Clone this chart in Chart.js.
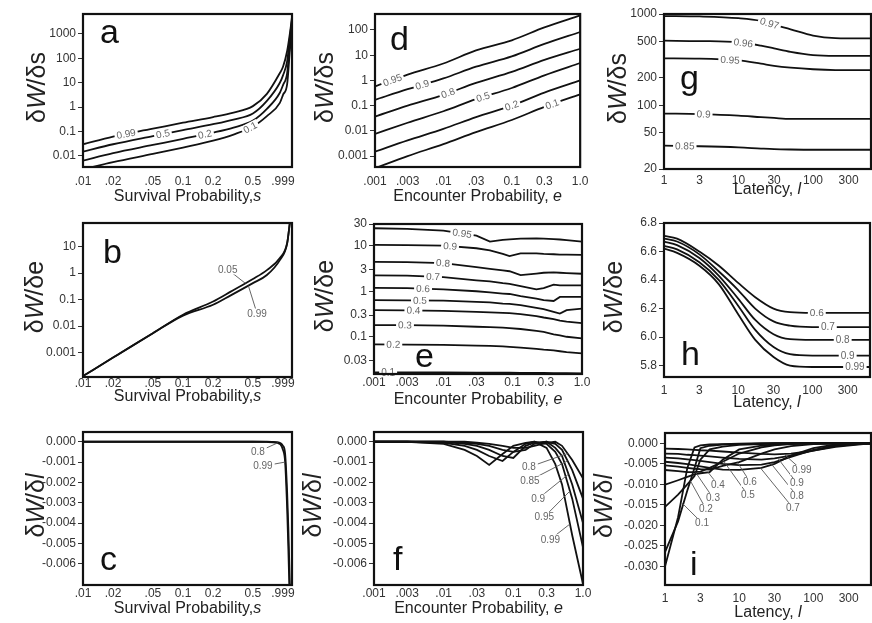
<!DOCTYPE html>
<html>
<head>
<meta charset="utf-8">
<script src="https://cdn.jsdelivr.net/npm/chart.js@4.4.1/dist/chart.umd.min.js"></script>
<style>
  html, body { margin: 0; padding: 0; background: #fff; }
  body { position: relative; width: 872px; height: 623px; overflow: hidden; }
  canvas { position: absolute; }
</style>
</head>
<body>
<script>
// ---- axis ticks ----
const sTicks = [0.01, 0.02, 0.05, 0.1, 0.2, 0.5, 0.999];
const sTickLabels = ['.01', '.02', '.05', '0.1', '0.2', '0.5', '.999'];
const eTicks = [0.001, 0.003, 0.01, 0.03, 0.1, 0.3, 1];
const eTickLabels = ['.001', '.003', '.01', '.03', '0.1', '0.3', '1.0'];
const lTicks = [1, 3, 10, 30, 100, 300];
const lTickLabels = ['1', '3', '10', '30', '100', '300'];

const aTicks = [0.01, 0.1, 1, 10, 100, 1000];
const aTickLabels = ['0.01', '0.1', '1', '10', '100', '1000'];
const dTicks = [0.001, 0.01, 0.1, 1, 10, 100];
const dTickLabels = ['0.001', '0.01', '0.1', '1', '10', '100'];
const gTicks = [20, 50, 100, 200, 500, 1000];
const gTickLabels = ['20', '50', '100', '200', '500', '1000'];
const bTicks = [0.001, 0.01, 0.1, 1, 10];
const bTickLabels = ['0.001', '0.01', '0.1', '1', '10'];
const eyTicks = [0.03, 0.1, 0.3, 1, 3, 10, 30];
const eyTickLabels = ['0.03', '0.1', '0.3', '1', '3', '10', '30'];
const hTicks = [5.8, 6.0, 6.2, 6.4, 6.6, 6.8];
const hTickLabels = ['5.8', '6.0', '6.2', '6.4', '6.6', '6.8'];
const cfTicks = [0, -0.001, -0.002, -0.003, -0.004, -0.005, -0.006];
const cfTickLabels = ['0.000', '-0.001', '-0.002', '-0.003', '-0.004', '-0.005', '-0.006'];
const iTicks = [0, -0.005, -0.010, -0.015, -0.020, -0.025, -0.030];
const iTickLabels = ['0.000', '-0.005', '-0.010', '-0.015', '-0.020', '-0.025', '-0.030'];

// ---- a: dW/ds vs survival probability ----
const aS = [0.01, 0.02, 0.05, 0.1, 0.2, 0.32, 0.5, 0.69, 0.93, 1.0, 1.1, 1.17, 1.23];
const aW99 = [0.03, 0.062, 0.13, 0.23, 0.39, 0.6, 1.1, 3.5, 25, 45, 200, 1000, 5000];
const aW50 = [0.015, 0.03, 0.065, 0.115, 0.2, 0.31, 0.55, 1.8, 10, 20, 77, 700, 4000];
const aW20 = [0.0064, 0.013, 0.028, 0.05, 0.09, 0.145, 0.28, 0.85, 3.9, 8, 25, 380, 3000];
const aW10 = [0.0028, 0.0055, 0.012, 0.022, 0.042, 0.075, 0.16, 0.43, 1.5, 3.2, 8.8, 200, 2000];
const aNames = ['0.99', '0.5', '0.2', '0.1'];

// ---- b: dW/de vs survival probability ----
const bS = [0.01, 0.02, 0.05, 0.1, 0.2, 0.3, 0.5, 0.69, 0.93, 1.1, 1.17, 1.23];
const bW05 = [0.00013, 0.00065, 0.0054, 0.027, 0.085, 0.2, 0.6, 1.3, 3.7, 13.7, 78, 300];
const bW99 = [0.00013, 0.00065, 0.0054, 0.025, 0.064, 0.145, 0.42, 0.85, 3.1, 13, 78, 300];
const bNames = ['0.05', '0.99'];

// ---- c: dW/dl vs survival probability ----
const cS = [0.01, 0.1, 0.5, 0.69, 0.87, 1.0, 1.05, 1.1, 1.13, 1.17, 1.23];
const cL80 = [0, 0, 0, 0, -0.00002, -0.0002, -0.0006, -0.0025, -0.0042, -0.007, -0.010];
const cL99 = [0, 0, 0, -0.00001, -0.00006, -0.0004, -0.0010, -0.0033, -0.0052, -0.008, -0.011];
const cNames = ['0.8', '0.99'];

// ---- d: dW/ds vs encounter probability ----
const dE = [0.001, 0.003, 0.01, 0.03, 0.1, 0.3, 1];
const dS95 = [0.58, 1.7, 4.7, 15.5, 39, 127, 380];
const dS90 = [0.17, 0.45, 1.2, 3.5, 9, 28, 83];
const dS80 = [0.037, 0.1, 0.27, 0.8, 2.2, 6.5, 18];
const dS50 = [0.0076, 0.021, 0.06, 0.18, 0.5, 1.6, 4.9];
const dS20 = [0.0015, 0.0042, 0.012, 0.035, 0.1, 0.33, 1.0];
const dS10 = [0.00033, 0.001, 0.003, 0.009, 0.027, 0.09, 0.28];
const dNames = ['0.95', '0.9', '0.8', '0.5', '0.2', '0.1'];

// ---- e: dW/de vs encounter probability ----
const eE = [0.001, 0.003, 0.01, 0.03, 0.047, 0.072, 0.09, 0.13, 0.22, 0.28, 0.39, 0.48, 0.6, 1];
const eS95 = [24.2, 23.5, 21.5, 16.7, 12.3, 13.5, 13.8, 14.3, 14.4, 14.3, 14, 13.7, 13.3, 12.3];
const eS90 = [10.4, 10.3, 10, 8.8, 7.9, 6.6, 5.9, 6.8, 6.8, 6.6, 6.5, 6.4, 6.4, 6.3];
const eS80 = [4.4, 4.35, 4.15, 3.4, 3.1, 2.87, 2.75, 2.25, 2.45, 2.55, 2.6, 2.55, 2.5, 2.42];
const eS70 = [2.23, 2.2, 2.05, 1.74, 1.65, 1.5, 1.45, 1.3, 1.1, 1.17, 1.39, 1.35, 1.35, 1.35];
const eS60 = [1.18, 1.17, 1.1, 1.0, 0.94, 0.89, 0.87, 0.78, 0.69, 0.64, 0.61, 0.75, 0.75, 0.75];
const eS50 = [0.636, 0.63, 0.62, 0.584, 0.57, 0.537, 0.53, 0.495, 0.432, 0.405, 0.353, 0.324, 0.385, 0.417];
const eS40 = [0.385, 0.38, 0.372, 0.353, 0.345, 0.336, 0.33, 0.315, 0.285, 0.265, 0.245, 0.225, 0.214, 0.2];
const eS30 = [0.181, 0.18, 0.176, 0.166, 0.162, 0.158, 0.155, 0.148, 0.134, 0.128, 0.113, 0.107, 0.1, 0.092];
const eS20 = [0.068, 0.067, 0.066, 0.064, 0.063, 0.0615, 0.06, 0.058, 0.054, 0.052, 0.05, 0.048, 0.046, 0.043];
const eS10 = [0.0165, 0.0165, 0.0164, 0.0163, 0.0163, 0.0162, 0.0162, 0.0161, 0.016, 0.016, 0.0159, 0.0158, 0.0158, 0.0157];
const eNames = ['0.95', '0.9', '0.8', '0.7', '0.6', '0.5', '0.4', '0.3', '0.2', '0.1'];

// ---- f: dW/dl vs encounter probability ----
const fE = [0.001, 0.003, 0.01, 0.02, 0.03, 0.045, 0.07, 0.1, 0.15, 0.2, 0.3, 0.4, 0.5, 0.7, 1];
const fS80 = [0, 0, 0, 0, -0.00005, -0.0001, -0.0002, -0.0003, -0.0003, -0.0002, -0.00005, 0, -0.0002, -0.0009, -0.0018];
const fS85 = [0, 0, 0, -0.00005, -0.0001, -0.0002, -0.0004, -0.0005, -0.0004, -0.0001, 0, -0.0001, -0.0004, -0.0014, -0.0028];
const fS90 = [0, 0, 0, -0.0001, -0.0002, -0.0004, -0.0007, -0.0008, -0.0002, -0.00005, 0, -0.0003, -0.0007, -0.0021, -0.0040];
const fS95 = [0, 0, -0.00005, -0.0002, -0.0004, -0.0007, -0.00095, -0.0005, -0.0001, 0, -0.0001, -0.0005, -0.0011, -0.0028, -0.0052];
const fS99 = [0, 0, -0.0001, -0.0004, -0.0007, -0.00114, -0.0006, -0.0002, -0.00005, 0, -0.0003, -0.0011, -0.0021, -0.0046, -0.0070];
const fNames = ['0.8', '0.85', '0.9', '0.95', '0.99'];

// ---- g: dW/ds vs latency ----
const gL = [1, 3, 10, 20, 30, 50, 100, 200, 600];
const gS97 = [950, 940, 900, 840, 760, 680, 580, 545, 540];
const gS96 = [510, 505, 490, 450, 420, 385, 355, 348, 348];
const gS95 = [327, 325, 310, 285, 270, 258, 248, 243, 242];
const gS90 = [81, 80, 77, 74, 72.5, 71, 71, 71, 71];
const gS85 = [36, 35.5, 34.5, 33.5, 33, 32.7, 32.5, 32.5, 32.5];
const gNames = ['0.97', '0.96', '0.95', '0.9', '0.85'];

// ---- h: dW/de vs latency ----
const hL = [1, 1.5, 3, 5.5, 10, 17, 30, 50, 100, 600];
const hS60 = [6.71, 6.69, 6.60, 6.50, 6.38, 6.28, 6.20, 6.175, 6.17, 6.17];
const hS70 = [6.69, 6.67, 6.58, 6.46, 6.33, 6.20, 6.11, 6.08, 6.07, 6.07];
const hS80 = [6.67, 6.645, 6.555, 6.43, 6.27, 6.12, 6.02, 5.985, 5.98, 5.98];
const hS90 = [6.64, 6.615, 6.525, 6.40, 6.22, 6.05, 5.93, 5.88, 5.87, 5.87];
const hS99 = [6.62, 6.59, 6.50, 6.37, 6.16, 5.98, 5.86, 5.80, 5.79, 5.79];
const hNames = ['0.6', '0.7', '0.8', '0.9', '0.99'];

// ---- i: dW/dl vs latency ----
const iL = [1, 1.5, 2, 2.5, 3, 4, 6, 10, 20, 30, 50, 100, 200, 400, 600];
const iS10 = [-0.030, -0.018, -0.006, -0.001, -0.0005, -0.0003, -0.0002, -0.0001, 0, 0, 0, 0, 0, 0, 0];
const iS20 = [-0.0265, -0.019, -0.0115, -0.006, -0.0012, -0.0006, -0.0003, -0.0002, -0.0001, 0, 0, 0, 0, 0, 0];
const iS30 = [-0.0155, -0.0125, -0.010, -0.008, -0.004, -0.0015, -0.0008, -0.0004, -0.0002, -0.0001, 0, 0, 0, 0, 0];
const iS40 = [-0.0101, -0.009, -0.0082, -0.0076, -0.0073, -0.007, -0.004, -0.0015, -0.0006, -0.0003, -0.0001, 0, 0, 0, 0];
const iS50 = [-0.0065, -0.0068, -0.007, -0.007, -0.0069, -0.006, -0.0045, -0.0025, -0.001, -0.0005, -0.0002, 0, 0, 0, 0];
const iS60 = [-0.0054, -0.0057, -0.006, -0.0062, -0.0063, -0.0064, -0.0055, -0.0046, -0.0025, -0.0015, -0.0007, -0.0002, 0, 0, 0];
const iS70 = [-0.0045, -0.0048, -0.0051, -0.0054, -0.0056, -0.006, -0.0064, -0.0065, -0.006, -0.005, -0.003, -0.0012, -0.0003, 0, 0];
const iS80 = [-0.0035, -0.0037, -0.0039, -0.0041, -0.0043, -0.0046, -0.005, -0.0053, -0.0052, -0.0046, -0.0033, -0.0016, -0.0005, -0.0001, 0];
const iS90 = [-0.0025, -0.0026, -0.0028, -0.0029, -0.003, -0.0032, -0.0035, -0.0038, -0.004, -0.0037, -0.003, -0.0018, -0.0007, -0.0002, 0];
const iS99 = [-0.0013, -0.0014, -0.0015, -0.0016, -0.0017, -0.0018, -0.002, -0.0023, -0.0026, -0.0027, -0.0025, -0.0018, -0.0009, -0.0003, 0];
const iNames = ['0.1', '0.2', '0.3', '0.4', '0.5', '0.6', '0.7', '0.8', '0.9', '0.99'];

const FONT = "'Liberation Sans', Arial, sans-serif";
const ML = 83, MR = 14, MT = 12, MB = 44;

const titleS = [['Survival Probability,', false], ['s', true]];
const titleE = [['Encounter Probability, ', false], ['e', true]];
const titleL = [['Latency, ', false], ['l', true]];
const ytS = [['δ', false], ['W', true], ['/δ', false], ['s', false]];
const ytE = [['δ', false], ['W', true], ['/δ', false], ['e', false]];
const ytL = [['δ', false], ['W', true], ['/δ', false], ['l', true]];

const sAxis = { type: 'logarithmic', min: 0.01, max: 1.23, ticks: sTicks, labels: sTickLabels };
const eAxis = { type: 'logarithmic', min: 0.001, max: 1, ticks: eTicks, labels: eTickLabels };
const lAxis = { type: 'logarithmic', min: 1, max: 600, ticks: lTicks, labels: lTickLabels };

const panels = [
  { rect: [83, 14, 292, 167], x: sAxis, y: { type: 'logarithmic', min: 0.0035, max: 6600, ticks: aTicks, labels: aTickLabels },
    xs: aS, series: [aW99, aW50, aW20, aW10], names: aNames, smooth: true,
    letter: 'a', letterAt: [17, 29], xTitle: titleS, yTitle: ytS, xTitleOff: 30, tickPad: 7.5, yTitleDx: -45,
    inline: [[0, 0.027], [1, 0.063], [2, 0.166], [3, 0.47]], leaders: [] },
  { rect: [375, 14, 582, 167], x: eAxis, y: { type: 'logarithmic', min: 0.00037, max: 430, ticks: dTicks, labels: dTickLabels },
    xs: dE, series: [dS95, dS90, dS80, dS50, dS20, dS10], names: dNames, smooth: true,
    letter: 'd', letterAt: [15, 36], xTitle: titleE, yTitle: ytS, xTitleOff: 30, tickPad: 7.5, yTitleDx: -49,
    inline: [[0, 0.0018], [1, 0.0049], [2, 0.0117], [3, 0.038], [4, 0.1], [5, 0.39]], leaders: [] },
  { rect: [664, 14, 871, 169], x: lAxis, y: { type: 'logarithmic', min: 20, max: 1000, ticks: gTicks, labels: gTickLabels },
    xs: gL, series: [gS97, gS96, gS95, gS90, gS85], names: gNames, smooth: true,
    letter: 'g', letterAt: [16, 75], xTitle: titleL, yTitle: ytS, xTitleOff: 21, tickPad: 4.5, yTitleDx: -45,
    inline: [[0, 26], [1, 11.6], [2, 7.7], [3, 3.4], [4, 1.9]], leaders: [] },
  { rect: [83, 223, 292, 377], x: sAxis, y: { type: 'logarithmic', min: 0.00012, max: 78, ticks: bTicks, labels: bTickLabels },
    xs: bS, series: [bW05, bW99], names: bNames, smooth: true,
    letter: 'b', letterAt: [20, 40], xTitle: titleS, yTitle: ytE, xTitleOff: 20, tickPad: -1, yTitleDx: -47,
    inline: [], leaders: [[0, 0.42, 0.28, 1.38], [1, 0.45, 0.55, 0.03]] },
  { rect: [374, 224, 582, 374], x: eAxis, y: { type: 'logarithmic', min: 0.0152, max: 30, ticks: eyTicks, labels: eyTickLabels },
    xs: eE, series: [eS95, eS90, eS80, eS70, eS60, eS50, eS40, eS30, eS20, eS10], names: eNames, smooth: false,
    letter: 'e', letterAt: [41, 143], xTitle: titleE, yTitle: ytE, xTitleOff: 26, tickPad: 1.5, yTitleDx: -48,
    inline: [[0, 0.0186], [1, 0.0125], [2, 0.0099], [3, 0.0071], [4, 0.0051], [5, 0.0046], [6, 0.0037], [7, 0.0028], [8, 0.0019], [9, 0.0016]], leaders: [] },
  { rect: [664, 223, 870, 377], x: lAxis, y: { type: 'linear', min: 5.72, max: 6.8, ticks: hTicks, labels: hTickLabels },
    xs: hL, series: [hS60, hS70, hS80, hS90, hS99], names: hNames, smooth: true,
    letter: 'h', letterAt: [17, 142], xTitle: titleL, yTitle: ytE, xTitleOff: 26, tickPad: 6, yTitleDx: -49,
    inline: [[0, 115], [1, 162], [2, 257], [3, 300], [4, 375]], leaders: [] },
  { rect: [83, 432, 292, 585], x: sAxis, y: { type: 'linear', min: -0.00705, max: 0.00048, ticks: cfTicks, labels: cfTickLabels },
    xs: cS, series: [cL80, cL99], names: cNames, smooth: true,
    letter: 'c', letterAt: [17, 138], xTitle: titleS, yTitle: ytL, xTitleOff: 24, tickPad: 1, yTitleDx: -46,
    inline: [], leaders: [[0, 0.89, 0.56, -0.0005], [1, 1.05, 0.63, -0.0012]] },
  { rect: [374, 432, 583, 585], x: eAxis, y: { type: 'linear', min: -0.00705, max: 0.00048, ticks: cfTicks, labels: cfTickLabels },
    xs: fE, series: [fS80, fS85, fS90, fS95, fS99], names: fNames, smooth: false,
    letter: 'f', letterAt: [19, 138], xTitle: titleE, yTitle: ytL, xTitleOff: 24, tickPad: 1.5, yTitleDx: -60,
    inline: [], leaders: [[0, 0.6, 0.167, -0.00125], [1, 0.6, 0.173, -0.0019], [2, 0.62, 0.227, -0.0028], [3, 0.65, 0.278, -0.0037], [4, 0.65, 0.34, -0.0048]] },
  { rect: [665, 433, 871, 585], x: lAxis, y: { type: 'linear', min: -0.0345, max: 0.0025, ticks: iTicks, labels: iTickLabels },
    xs: iL, series: [iS10, iS20, iS30, iS40, iS50, iS60, iS70, iS80, iS90, iS99], names: iNames, smooth: false,
    letter: 'i', letterAt: [25, 142], xTitle: titleL, yTitle: ytL, xTitleOff: 28, tickPad: 6, yTitleDx: -60,
    inline: [], leaders: [[0, 1.64, 3.16, -0.0194], [1, 2.2, 3.57, -0.016], [2, 2.6, 4.44, -0.0133], [3, 3.8, 5.18, -0.0101],
      [4, 6.2, 13.1, -0.0126], [5, 9.5, 14.0, -0.0094], [6, 19.4, 53, -0.0157], [7, 26.5, 60, -0.0128], [8, 33, 60, -0.0097], [9, 40, 70, -0.0065]] }
];

// point on a drawn dataset at a given pixel x (linear between element points)
function pointOn(meta, px) {
  const pts = meta.data;
  if (px <= pts[0].x) return { x: pts[0].x, y: pts[0].y };
  for (let i = 0; i < pts.length - 1; i++) {
    const a = pts[i], b = pts[i + 1];
    if (px >= a.x && px <= b.x) {
      const t = (px - a.x) / ((b.x - a.x) || 1);
      return { x: px, y: a.y + t * (b.y - a.y) };
    }
  }
  const last = pts[pts.length - 1];
  return { x: last.x, y: last.y };
}

function textBox(ctx, txt, x, y, ang) {
  ctx.save();
  ctx.translate(x, y);
  ctx.rotate(ang);
  ctx.font = '10px ' + FONT;
  ctx.textAlign = 'center';
  ctx.textBaseline = 'middle';
  const w = ctx.measureText(txt).width + 4;
  ctx.fillStyle = '#fff';
  ctx.fillRect(-w / 2, -5, w, 10);
  ctx.fillStyle = '#666';
  ctx.fillText(txt, 0, 0.5);
  ctx.restore();
}

function drawRich(ctx, segs, size, x, y, vertical) {
  ctx.save();
  ctx.translate(x, y);
  if (vertical) ctx.rotate(-Math.PI / 2);
  ctx.textBaseline = 'middle';
  ctx.textAlign = 'left';
  ctx.fillStyle = '#222';
  let total = 0;
  const widths = segs.map(([t, it]) => {
    ctx.font = (it ? 'italic ' : '') + size + 'px ' + FONT;
    const w = ctx.measureText(t).width;
    total += w;
    return w;
  });
  let cx = -total / 2;
  segs.forEach(([t, it], i) => {
    ctx.font = (it ? 'italic ' : '') + size + 'px ' + FONT;
    ctx.fillText(t, cx, 0);
    cx += widths[i];
  });
  ctx.restore();
}

function makeDeco(p) {
  return {
    id: 'deco',
    afterDatasetsDraw(chart) {
      const { ctx, chartArea: ca, scales } = chart;
      // leader labels
      p.leaders.forEach(([si, xv, tx, ty]) => {
        const a = pointOn(chart.getDatasetMeta(si), scales.x.getPixelForValue(xv));
        const tX = scales.x.getPixelForValue(tx), tY = scales.y.getPixelForValue(ty);
        ctx.save();
        ctx.strokeStyle = '#555';
        ctx.lineWidth = 0.9;
        ctx.beginPath();
        ctx.moveTo(a.x, a.y);
        ctx.lineTo(tX, tY);
        ctx.stroke();
        ctx.restore();
        textBox(ctx, p.names[si], tX, tY, 0);
      });
      // inline labels along the curves
      p.inline.forEach(([si, xv]) => {
        const meta = chart.getDatasetMeta(si);
        const px = scales.x.getPixelForValue(xv);
        const a = pointOn(meta, px), l = pointOn(meta, px - 8), r = pointOn(meta, px + 8);
        const ang = Math.atan2(r.y - l.y, (r.x - l.x) || 1);
        textBox(ctx, p.names[si], a.x, a.y, ang);
      });
      // frame
      ctx.save();
      ctx.strokeStyle = '#111';
      ctx.lineWidth = 2.2;
      ctx.strokeRect(ca.left, ca.top, ca.right - ca.left, ca.bottom - ca.top);
      // panel letter
      ctx.font = '34px ' + FONT;
      ctx.fillStyle = '#111';
      ctx.textAlign = 'left';
      ctx.textBaseline = 'alphabetic';
      ctx.fillText(p.letter, ca.left + p.letterAt[0], ca.top + p.letterAt[1]);
      ctx.restore();
      // axis titles
      drawRich(ctx, p.xTitle, 16, (ca.left + ca.right) / 2, ca.bottom + p.xTitleOff, false);
      drawRich(ctx, p.yTitle, 25, ca.left + p.yTitleDx, (ca.top + ca.bottom) / 2 - 3, true);
    }
  };
}

panels.forEach(p => {
  const [x0, y0, x1, y1] = p.rect;
  const W = x1 - x0 + ML + MR, H = y1 - y0 + MT + MB;
  const cv = document.createElement('canvas');
  cv.width = W;
  cv.height = H;
  cv.style.left = (x0 - ML) + 'px';
  cv.style.top = (y0 - MT) + 'px';
  cv.style.width = W + 'px';
  cv.style.height = H + 'px';
  document.body.appendChild(cv);

  new Chart(cv, {
    type: 'line',
    data: {
      datasets: p.series.map(s => ({
        data: p.xs.map((x, i) => ({ x: x, y: s[i] })),
        borderColor: '#111',
        borderWidth: 1.8,
        pointRadius: 0,
        fill: false,
        tension: 0,
        cubicInterpolationMode: p.smooth ? 'monotone' : 'default'
      }))
    },
    options: {
      responsive: false,
      animation: false,
      devicePixelRatio: 1,
      layout: { padding: { left: 0, right: MR, top: MT, bottom: 0 } },
      plugins: { legend: { display: false }, tooltip: { enabled: false } },
      scales: {
        x: {
          type: p.x.type, min: p.x.min, max: p.x.max,
          afterBuildTicks: sc => { sc.ticks = p.x.ticks.map(v => ({ value: v })); },
          afterFit: sc => { sc.height = MB; },
          ticks: {
            callback: (v, i) => p.x.labels[i],
            autoSkip: false, maxRotation: 0, minRotation: 0,
            padding: p.tickPad, color: '#333', font: { family: FONT, size: 12 }
          },
          grid: { display: false, drawTicks: false },
          border: { display: false }
        },
        y: {
          type: p.y.type, min: p.y.min, max: p.y.max,
          afterBuildTicks: sc => { sc.ticks = p.y.ticks.map(v => ({ value: v })); },
          afterFit: sc => { sc.width = ML; },
          ticks: {
            callback: (v, i) => p.y.labels[i],
            autoSkip: false, padding: 2, color: '#333', font: { family: FONT, size: 12 }
          },
          grid: { drawOnChartArea: false, drawTicks: true, tickLength: 5, color: '#333', lineWidth: 1 },
          border: { display: false }
        }
      }
    },
    plugins: [makeDeco(p)]
  });
});
</script>
</body>
</html>
